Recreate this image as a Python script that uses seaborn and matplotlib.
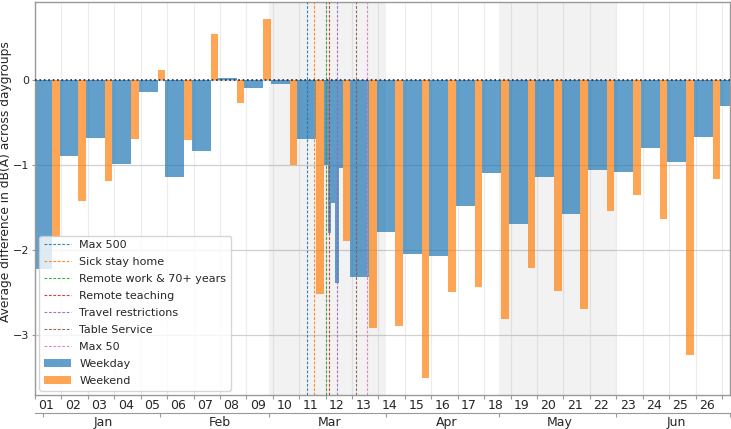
import numpy as np
import pandas as pd
import seaborn as sns
import matplotlib.pyplot as plt
import matplotlib.dates as mdates

# ISO weeks 2020, average difference per daygroup in dB(A)
weeks = list(range(1, 28))
week_labels = ["%02d" % w for w in range(1, 27)]
weekday_diff = [-2.22, -0.89, -0.68, -0.99, -0.14, -1.14, -0.83, 0.02, -0.09, -0.05,
                -0.69, np.nan, -2.32, -1.79, -2.05, -2.07, -1.48, -1.10, -1.69, -1.14,
                -1.58, -1.06, -1.08, -0.80, -0.97, -0.67, -0.31]
weekend_diff = [-1.85, -1.43, -1.19, -0.69, 0.12, -0.71, 0.54, -0.27, 0.72, -1.00,
                -2.52, -1.90, -2.92, -2.90, -3.51, -2.50, -2.44, -2.82, -2.21, -2.49,
                -2.70, -1.54, -1.35, -1.64, -3.24, -1.16, np.nan]
# week 12 weekdays are shown day by day
split_days = ["2020-03-16", "2020-03-17", "2020-03-18", "2020-03-19", "2020-03-20"]
split_diff = [-1.00, -1.80, -1.45, -2.39, -1.03]

events = ["Max 500", "Sick stay home", "Remote work & 70+ years", "Remote teaching",
          "Travel restrictions", "Table Service", "Max 50"]
event_dates = ["2020-03-11", "2020-03-13", "2020-03-16", "2020-03-17",
               "2020-03-19", "2020-03-24", "2020-03-27"]
shaded_months = [("2020-03-01", "2020-04-01"), ("2020-05-01", "2020-06-01")]
month_labels = ["Jan", "Feb", "Mar", "Apr", "May", "Jun"]

sns.set_style("whitegrid")
plt.rcParams["font.family"] = ["DejaVu Sans"]
pal = sns.color_palette("tab10")

week1_monday = pd.Timestamp("2019-12-30")
mondays = [week1_monday + pd.Timedelta(weeks=w - 1) for w in weeks]
half = pd.Timedelta(hours=12)

rows = []
for mon, wd, we in zip(mondays, weekday_diff, weekend_diff):
    if not np.isnan(wd):
        rows.append(("Weekday", mon - half, 5, wd))
    if not np.isnan(we):
        rows.append(("Weekend", mon + pd.Timedelta(days=5) - half, 2, we))
for d, v in zip(split_days, split_diff):
    rows.append(("Weekday", pd.Timestamp(d) - half, 1, v))
bars = pd.DataFrame(rows, columns=["group", "start", "days", "diff"])

fig = plt.figure(figsize=(7.31, 4.29), dpi=100)
ax = fig.add_axes([35 / 731, 34 / 429, 694.5 / 731, 393 / 429])

for a, b in shaded_months:
    ax.axvspan(mdates.date2num(pd.Timestamp(a)), mdates.date2num(pd.Timestamp(b)),
               color="grey", alpha=0.1, lw=0, zorder=1)

for i, (name, d) in enumerate(zip(events, event_dates)):
    ax.axvline(mdates.date2num(pd.Timestamp(d)), color=pal[i], ls=(0, (2.5, 1.5)),
               lw=0.8, alpha=0.9, label=name, zorder=3)

for grp, col in [("Weekday", pal[0]), ("Weekend", pal[1])]:
    sub = bars[bars.group == grp]
    ax.bar(mdates.date2num(sub["start"]), sub["diff"], width=sub["days"], align="edge",
           color=col, alpha=0.7, linewidth=0, label=grp, zorder=2)

ax.axhline(0, color="#1a2a4a", ls=":", lw=1.2, zorder=4)

ax.set_xlim(mdates.date2num(pd.Timestamp("2019-12-31")), mdates.date2num(pd.Timestamp("2020-07-01")))
ax.set_ylim(-3.71, 0.92)
ax.set_yticks([-3, -2, -1, 0])

ax.set_xticks(mdates.date2num(mondays))
ax.set_xticklabels([])
thursdays = [m + pd.Timedelta(days=3) for m in mondays[:len(week_labels)]]
ax.set_xticks(mdates.date2num(thursdays), minor=True)
ax.set_xticklabels(week_labels, minor=True)

ax.tick_params(axis="x", which="major", length=3, color="0.6", bottom=True)
ax.tick_params(axis="x", which="minor", length=0, pad=3, labelsize=9, bottom=True)
ax.tick_params(axis="y", length=2.5, color="0.6", left=True, labelsize=8, pad=1.5)

ax.grid(False)
ax.grid(axis="y", which="major", color="#d0d0d0", lw=0.9)
ax.grid(axis="x", which="major", color="#ececec", lw=0.8)
for s in ax.spines.values():
    s.set_color("0.6")
    s.set_linewidth(1)

ax.set_ylabel("Average difference in dB(A) across daygroups", fontsize=8.8)
ax.yaxis.set_label_coords(-0.0328, 0.544)

ax.legend(loc="lower left", fontsize=8, frameon=True, framealpha=0.8, edgecolor="0.8",
          fancybox=True, borderaxespad=0.4, labelspacing=0.63, handlelength=2.4)

# month axis under the week numbers
ax2 = ax.twiny()
ax2.set_xlim(ax.get_xlim())
ax2.xaxis.set_ticks_position("bottom")
ax2.spines["bottom"].set_position(("outward", 13))
for s in ["top", "left", "right"]:
    ax2.spines[s].set_visible(False)
ax2.spines["bottom"].set_color("0.6")
month_starts = pd.date_range("2020-01-01", periods=len(month_labels) + 1, freq="MS")
ax2.set_xticks(mdates.date2num(month_starts))
ax2.set_xticklabels([])
ax2.set_xticks(mdates.date2num(month_starts[:-1] + pd.Timedelta(days=16)), minor=True)
ax2.set_xticklabels(month_labels, minor=True)
ax2.tick_params(which="major", length=3, color="0.6", bottom=True, top=False)
ax2.tick_params(which="minor", length=0, labelsize=9, pad=2, bottom=True, top=False)
ax2.grid(False)

fig.savefig("out.png", dpi=100)
